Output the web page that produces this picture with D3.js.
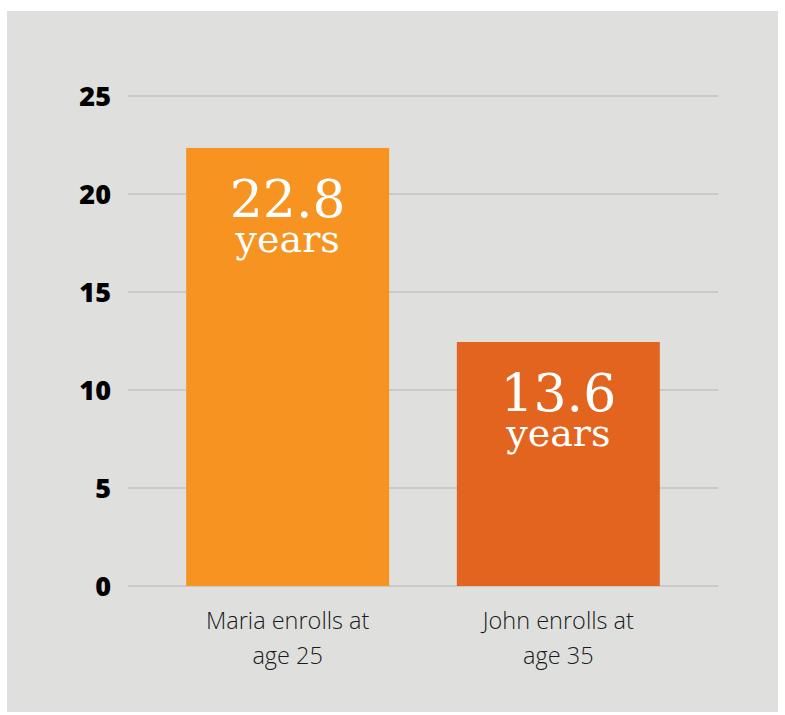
<!DOCTYPE html>
<html>
<head>
<meta charset="utf-8">
<script src="https://cdn.jsdelivr.net/npm/d3@7"></script>
<style>
  body { margin: 0; background: #fff; }
</style>
</head>
<body>
<div id="chart-area"></div>
<script>
const categories = [["Maria enrolls at", "age 25"], ["John enrolls at", "age 35"]]
const values = [22.35, 12.45]
const valueLabels = ["22.8", "13.6"]
const unitLabel = "years"
const colors = ["#f69321", "#e2641f"]
const yTicks = [0, 5, 10, 15, 20, 25]

const W = 785, H = 715
const MARGIN = { left: 128, right: 67, top: 96, bottom: 129 }
const WIDTH = W - MARGIN.left - MARGIN.right
const HEIGHT = H - MARGIN.top - MARGIN.bottom

const svg = d3.select("#chart-area").append("svg")
    .attr("width", W)
    .attr("height", H)

svg.append("rect")
    .attr("x", 7).attr("y", 11)
    .attr("width", 771).attr("height", 701)
    .attr("fill", "#dfe0de")

const g = svg.append("g")
    .attr("transform", `translate(${MARGIN.left}, ${MARGIN.top})`)

const x = d3.scaleBand()
    .domain(d3.range(values.length))
    .range([0, WIDTH])
    .paddingInner(0.25)
    .paddingOuter(0.215)

const y = d3.scaleLinear()
    .domain([0, 25])
    .range([HEIGHT, 0])

// gridlines
g.selectAll(".grid").data(yTicks).enter().append("line")
    .attr("x1", 0).attr("x2", WIDTH)
    .attr("y1", d => y(d)).attr("y2", d => y(d))
    .attr("stroke", "#c9cac8")
    .attr("stroke-width", 2)

const yAxis = g.append("g")
    .call(d3.axisLeft(y).tickValues(yTicks).tickSize(0).tickPadding(17))
yAxis.select(".domain").remove()
yAxis.selectAll("text")
    .attr("font-family", "'Open Sans', sans-serif")
    .attr("font-weight", 800)
    .attr("font-size", "27px")
    .attr("fill", "#000")
    .attr("dy", "0.36em")

g.selectAll(".bar").data(values).enter().append("rect")
    .attr("x", (d, i) => x(i))
    .attr("y", d => y(d))
    .attr("width", x.bandwidth())
    .attr("height", d => HEIGHT - y(d))
    .attr("fill", (d, i) => colors[i])

const lbl = g.selectAll(".vlabel").data(values).enter().append("text")
    .attr("transform", (d, i) => `translate(${x(i) + x.bandwidth() / 2}, ${y(d)})`)
    .attr("text-anchor", "middle")
    .attr("font-family", "'DejaVu Serif', serif")
    .attr("fill", "#fff")
lbl.append("tspan")
    .attr("x", 0).attr("y", 69)
    .attr("font-size", "52px")
    .text((d, i) => valueLabels[i])
lbl.append("tspan")
    .attr("x", 0).attr("y", 104)
    .attr("font-size", "38px")
    .text(unitLabel)

const cat = g.selectAll(".cat").data(categories).enter().append("text")
    .attr("x", (d, i) => x(i) + x.bandwidth() / 2)
    .attr("y", HEIGHT + 43)
    .attr("text-anchor", "middle")
    .attr("font-family", "'Open Sans', sans-serif")
    .attr("font-weight", 300)
    .attr("font-size", "23.5px")
    .attr("fill", "#1a1a1a")
cat.selectAll("tspan").data(d => d).enter().append("tspan")
    .attr("x", function () { return d3.select(this.parentNode).attr("x") })
    .attr("dy", (d, i) => i ? 35 : 0)
    .text(d => d)
</script>
</body>
</html>
